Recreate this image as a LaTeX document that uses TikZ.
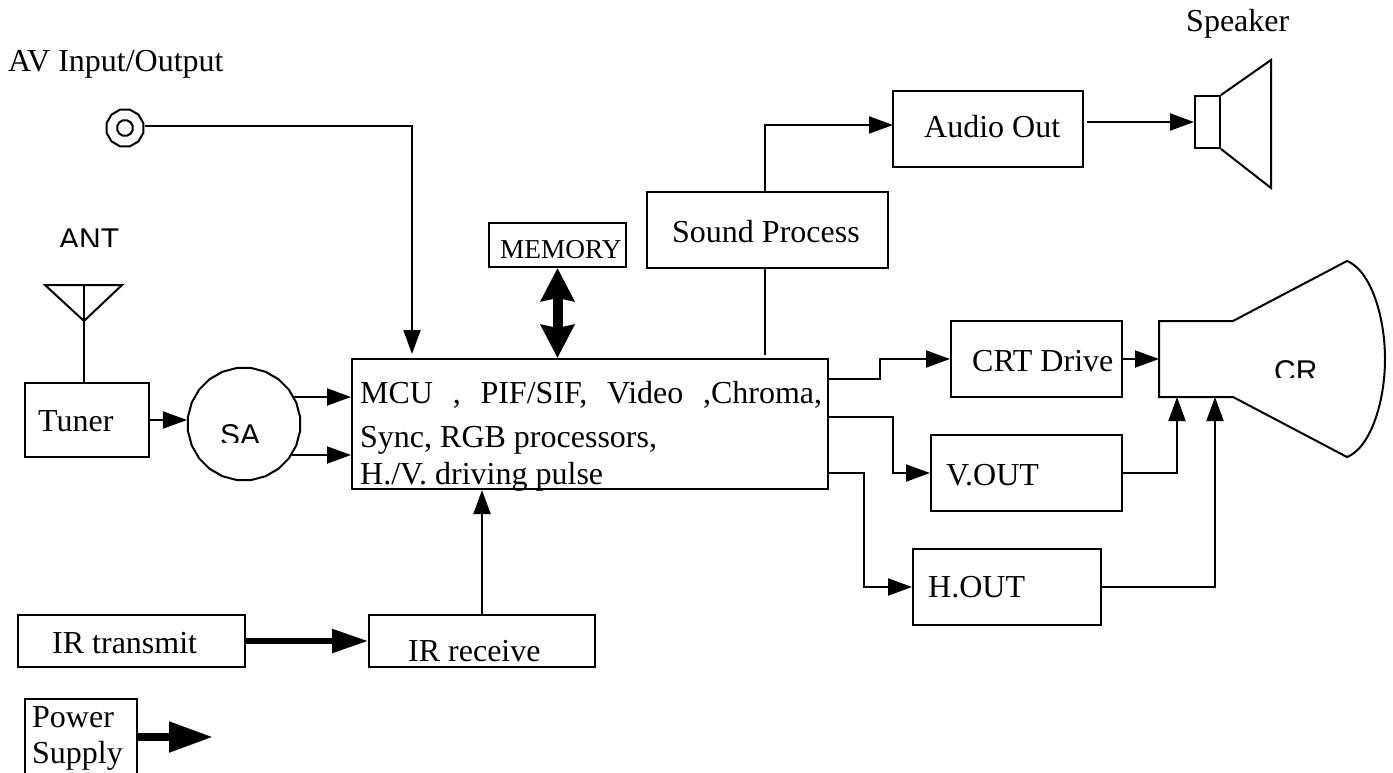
\documentclass[tikz,border=0pt]{standalone}
\usepackage{fontspec}
\setmainfont{Liberation Serif}
\newfontfamily\clippedfont{Liberation Sans}
\usetikzlibrary{calc}
\usetikzlibrary{arrows.meta}
\usetikzlibrary{shapes.geometric}

\tikzset{
 blockbox/.style={draw=black, line width=2pt, fill=white, inner sep=0pt},
 roundbox/.style={blockbox, regular polygon, regular polygon sides=#1},
 tag/.style={anchor=base west, inner sep=0pt, font=\fontsize{32}{36}\selectfont},
 smalltag/.style={anchor=base west, inner sep=0pt, font=\fontsize{27.3}{32}\selectfont},
 sanstag/.style={anchor=base west, inner sep=0pt, font=\fontsize{30}{34}\clippedfont},
 wire/.style={black, line width=2pt},
 flow/.style={wire, -{Triangle[length=24pt, width=17pt]}},
 fatflow/.style={black, line width=5.5pt, -{Triangle[length=36pt, width=23pt]}},
 powerflow/.style={black, line width=8pt, -{Triangle[length=44pt, width=29pt]}},
 busflow/.style={black, line width=10pt, {Stealth[length=33pt, width=33pt, inset=3pt]}-{Stealth[length=33pt, width=33pt, inset=3pt]}},
}

\begin{document}
\begin{tikzpicture} [x=1pt, y=-1pt]
\useasboundingbox (0,0) rectangle (1393,773);

\node[blockbox, minimum width=124pt, minimum height=74pt] (tuner) at (87,420) {};
\node[roundbox=24, minimum size=113pt] (sa) at (244,424) {};
\node[blockbox, minimum width=476pt, minimum height=130pt] (main) at (590,424) {};
\node[blockbox, minimum width=137pt, minimum height=44pt] (memory) at (557.5,245) {};
\node[blockbox, minimum width=241pt, minimum height=76pt] (sound) at (767.5,230) {};
\node[blockbox, minimum width=190pt, minimum height=76pt] (audio) at (988,129) {};
\node[blockbox, minimum width=25pt, minimum height=52pt] (speaker) at (1207.5,122) {};
\node[blockbox, minimum width=171pt, minimum height=76pt] (crtdrive) at (1036.5,359) {};
\node[blockbox, minimum width=191pt, minimum height=76pt] (vbox) at (1026.5,473) {};
\node[blockbox, minimum width=188pt, minimum height=76pt] (hbox) at (1007,587) {};
\node[blockbox, minimum width=227pt, minimum height=52pt] (irtx) at (131.5,641) {};
\node[blockbox, minimum width=226pt, minimum height=52pt] (irrx) at (482,641) {};
\node[blockbox, minimum width=112pt, minimum height=76pt] (power) at (81,737) {};
\node[roundbox=12, minimum size=38pt] (jack) at (125,128) {};
\node[roundbox=12, minimum size=16pt] (jackcore) at (125,128) {};

\node[tag] (avtext) at (8,72) {AV Input/Output};
\node[tag] (speakertext) at (1186,32) {Speaker};
\node[tag] (tunertext) at (38,431) {Tuner};
\node[smalltag] (memorytext) at (500,258) {MEMORY};
\node[tag] (soundtext) at (672,242) {Sound Process};
\node[tag] (audiotext) at (924,138) {Audio Out};
\node[tag] (crttext) at (972,371) {CRT Drive};
\node[tag] (vtext) at (946,485) {V.OUT};
\node[tag] (htext) at (928,597) {H.OUT};
\node[tag] (irtxtext) at (52,653) {IR transmit};
\node[tag] (irrxtext) at (408,661) {IR receive};
\node[tag] (powertext) at (32,727) {Power};
\node[tag] (supplytext) at (32,763) {Supply};
\node[tag] (mainone) at (360,403) {\hbox to 462pt{MCU\hfill,\hfill PIF/SIF,\hfill Video\hfill,Chroma,}};
\node[tag] (maintwo) at (360,447) {Sync, RGB processors,};
\node[tag] (mainthree) at (360,484) {H./V. driving pulse};

\begin{scope}
 \clip (40,220) rectangle (140,246);
 \node[sanstag] (anttext) at (59,249) {ANT};
\end{scope}
\begin{scope}
 \clip (210,415) rectangle (270,442);
 \node[sanstag] (satext) at (220,445) {SA};
\end{scope}
\draw[black, line width=2pt, fill=white] (1159,321) -- (1233,321) -- (1347,261)
 .. controls (1370,270) and (1385,315) .. (1385,359)
 .. controls (1385,403) and (1370,448) .. (1347,457)
 -- (1233,397) -- (1159,397) -- cycle;
\begin{scope}
 \clip (1260,350) rectangle (1330,377);
 \node[sanstag] (crtext) at (1274,381) {CR};
\end{scope}

\draw[wire] (45,285) -- (122,285) -- (84,321) -- cycle;
\coordinate (antfoot) at (84,321);
\draw[wire] (84,285) -- (antfoot) -- (antfoot |- tuner.north);
\draw[wire] (speaker.north east) -- (1271,60) -- (1271,188) -- (speaker.south east);

\coordinate (jackout) at (145,126);
\coordinate (saup) at (293,397);
\coordinate (sadown) at (292,455);
\coordinate (avin) at (412,354);
\coordinate (soundin) at (765,355);
\coordinate (audioin) at (893,125);
\coordinate (audioout) at (1087,122);
\coordinate (crtout) at (828,379);
\coordinate (vout) at (828,417);
\coordinate (hout) at (828,473);
\coordinate (tubeleft) at (1159,359);
\coordinate (tubev) at (1177,397);
\coordinate (tubeh) at (1215,397);
\coordinate (powertip) at (213,737);

\draw[flow] (tuner.east) -- (tuner.east -| sa.west);
\draw[flow] (saup) -- (saup -| main.west);
\draw[flow] (sadown) -- (sadown -| main.west);
\draw[flow] (jackout) -| (avin);
\draw[busflow] (memory.south) -- (memory.south |- main.north);
\draw[wire] (sound.south -| soundin) -- (soundin);
\draw[flow] (sound.north -| soundin) |- (audioin);
\draw[flow] (audioout) -- (speaker.west);
\draw[flow] (crtout) -- ++(52,0) |- (crtdrive.west);
\draw[flow] (vout) -- ++(65,0) |- (vbox.west);
\draw[flow] (hout) -- ++(36,0) |- (hbox.west);
\draw[flow] (crtdrive.east) -- (tubeleft);
\draw[flow] (vbox.east) -| (tubev);
\draw[flow] (hbox.east) -| (tubeh);
\draw[flow] (irrx.north) -- (irrx.north |- main.south);
\draw[fatflow] (irtx.east) -- (irrx.west);
\draw[powerflow] (power.east) -- (powertip);
\end{tikzpicture}
\end{document}
